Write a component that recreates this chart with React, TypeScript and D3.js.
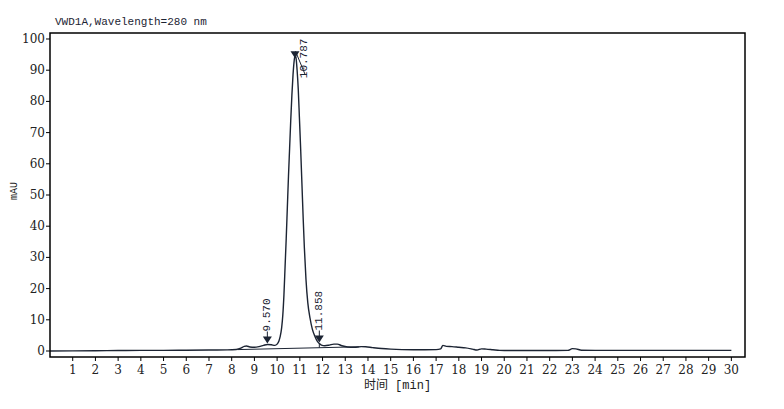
import React from 'react';
import * as d3 from 'd3';

// chromatogram trace (retention time in min, signal in mAU)
const times = [
  0, 1, 2, 3, 4, 5, 6, 7, 7.8, 8.2, 8.4, 8.55, 8.65, 8.8, 9.0, 9.2, 9.4, 9.57, 9.75, 9.9,
  10.0, 10.08, 10.13, 10.2, 10.25, 10.3, 10.35, 10.4, 10.45, 10.5, 10.55, 10.6, 10.65, 10.7,
  10.75, 10.79, 10.83, 10.88, 10.93, 10.98, 11.04, 11.1, 11.15, 11.2, 11.27, 11.35, 11.45,
  11.55, 11.67, 11.78, 11.86, 11.95, 12.1, 12.3, 12.5, 12.65, 12.85, 13.1, 13.4, 13.7, 13.9,
  14.2, 14.6, 15.0, 15.5, 16.0, 16.5, 17.0, 17.2, 17.3, 17.45, 17.7, 18.0, 18.3, 18.6, 18.8,
  19.0, 19.2, 19.5, 19.8, 20.0, 21, 22, 22.8, 23.0, 23.15, 23.4, 24, 25, 26, 27, 28, 29, 30,
];
const signal = [
  0.0, 0.05, 0.1, 0.15, 0.2, 0.2, 0.25, 0.3, 0.35, 0.5, 0.9, 1.5, 1.6, 1.3, 1.2, 1.4, 1.8, 2.1, 2.0, 1.8,
  2.2, 3.2, 4.5, 7.5, 11.5, 18, 27, 36, 46, 56, 65, 74, 82, 88.5,
  93, 94.8, 94, 90, 84, 75, 64, 52, 42, 33, 23, 15.5, 10.5,
  7, 4.6, 3.0, 2.4, 1.9, 1.7, 1.9, 2.2, 2.2, 1.7, 1.3, 1.2, 1.4, 1.35,
  1.1, 0.8, 0.6, 0.45, 0.4, 0.4, 0.45, 0.7, 1.8, 1.5, 1.4, 1.2, 1.0, 0.6, 0.3,
  0.7, 0.6, 0.4, 0.2, 0.15, 0.15, 0.15, 0.2, 0.75, 0.7, 0.25, 0.2, 0.2, 0.2, 0.2, 0.2, 0.2, 0.2,
];

// detected peaks
const peakTimes = [9.57, 10.787, 11.858];
const peakHeights = [2.1, 94.8, 2.4];
const peakLabels = ['9.570', '10.787', '11.858'];

// integration baseline end points
const baseTimes = [8.25, 13.6];
const baseValues = [0.45, 1.35];

const xTicks = d3.range(1, 31);
const yTicks = d3.range(0, 101, 10);

const title = 'VWD1A,Wavelength=280 nm';
const xTitle = '时间 [min]';
const yTitle = 'mAU';

export default function App() {
  const W = 784;
  const H = 409;
  const left = 50, right = 745, top = 33, bottom = 357;

  const x = d3.scaleLinear().domain([0, 30.6]).range([left, right]);
  const y = d3.scaleLinear().domain([-1.92, 101.92]).range([bottom, top]);

  const pts = times.map((t, i) => [t, signal[i]] as [number, number]);
  const line = d3.line<[number, number]>()
    .x(d => x(d[0]))
    .y(d => y(d[1]))
    .curve(d3.curveMonotoneX);

  const baseAt = (t: number) =>
    baseValues[0] + (t - baseTimes[0]) / (baseTimes[1] - baseTimes[0]) * (baseValues[1] - baseValues[0]);

  const ink = '#1c2433';
  const mono = 'Liberation Mono, Noto Sans CJK SC, monospace';
  const serif = 'DejaVu Serif, serif';

  return (
    <svg width={W} height={H} style={{ position: 'absolute', left: 0, top: 0, background: '#fff' }}>
      <rect x={0} y={0} width={W} height={H} fill="#fff" />
      <text x={55} y={25} fontFamily={mono} fontSize={11} fill={ink}>{title}</text>

      {/* integration baseline */}
      <line x1={x(baseTimes[0])} y1={y(baseValues[0])} x2={x(baseTimes[1])} y2={y(baseValues[1])}
        stroke={ink} strokeWidth={1} />
      {/* drop line at last peak */}
      <line x1={x(peakTimes[2])} y1={y(peakHeights[2])} x2={x(peakTimes[2])} y2={y(baseAt(peakTimes[2]))}
        stroke={ink} strokeWidth={1} />

      <path d={line(pts) || ''} fill="none" stroke={ink} strokeWidth={1.4} strokeLinejoin="round" />

      {/* peak markers */}
      {peakTimes.map((t, i) => {
        const px = x(t);
        const tip = y(peakHeights[i]) - 1;
        const tall = peakHeights[i] > 50;
        const triangle = `M${px - 4.5},${tip - 7}L${px + 4.5},${tip - 7}L${px},${tip}Z`;
        if (tall) {
          const lx = px + 9;
          const ly = tip + 24;
          return (
            <g key={i}>
              <path d={`M${px + 0.5},${tip - 3}L${lx + 1},${ly - 4}`} stroke={ink} strokeWidth={1} />
              <path d={`M${px - 4.5},${tip - 3}L${px + 4.5},${tip - 3}L${px},${tip + 4}Z`} fill={ink} />
              <text transform={`translate(${lx},${ly}) rotate(-90)`} fontFamily={mono} fontSize={11}
                fill={ink} dominantBaseline="central">{peakLabels[i]}</text>
            </g>
          );
        }
        return (
          <g key={i}>
            <line x1={px} y1={tip - 12} x2={px} y2={tip - 6} stroke={ink} strokeWidth={1} />
            <path d={triangle} fill={ink} />
            <text transform={`translate(${px},${tip - 12}) rotate(-90)`} fontFamily={mono} fontSize={11}
              fill={ink} dominantBaseline="central">{peakLabels[i]}</text>
          </g>
        );
      })}

      {/* frame */}
      <rect x={left} y={top} width={right - left} height={bottom - top} fill="none" stroke="#000" strokeWidth={1.5} />

      {/* y axis */}
      {yTicks.map(v => (
        <g key={v}>
          <line x1={left - 4} x2={left} y1={y(v)} y2={y(v)} stroke="#000" strokeWidth={1} />
          <text x={left - 5} y={y(v)} textAnchor="end" dominantBaseline="central"
            fontFamily={serif} fontSize={12} fill="#222">{v}</text>
        </g>
      ))}
      <text transform={`translate(14,${(top + bottom) / 2 - 4}) rotate(-90)`} textAnchor="middle"
        dominantBaseline="central" fontFamily={mono} fontSize={10} fill="#222">{yTitle}</text>

      {/* x axis */}
      {xTicks.map(v => (
        <g key={v}>
          <line x1={x(v)} x2={x(v)} y1={bottom} y2={bottom + 4} stroke="#000" strokeWidth={1} />
          <text x={x(v)} y={bottom + 13} textAnchor="middle" dominantBaseline="central"
            fontFamily={serif} fontSize={12} fill="#222">{v}</text>
        </g>
      ))}
      <text x={(left + right) / 2} y={389} textAnchor="middle" fontFamily={mono} fontSize={12}
        fill="#222">{xTitle}</text>
    </svg>
  );
}
